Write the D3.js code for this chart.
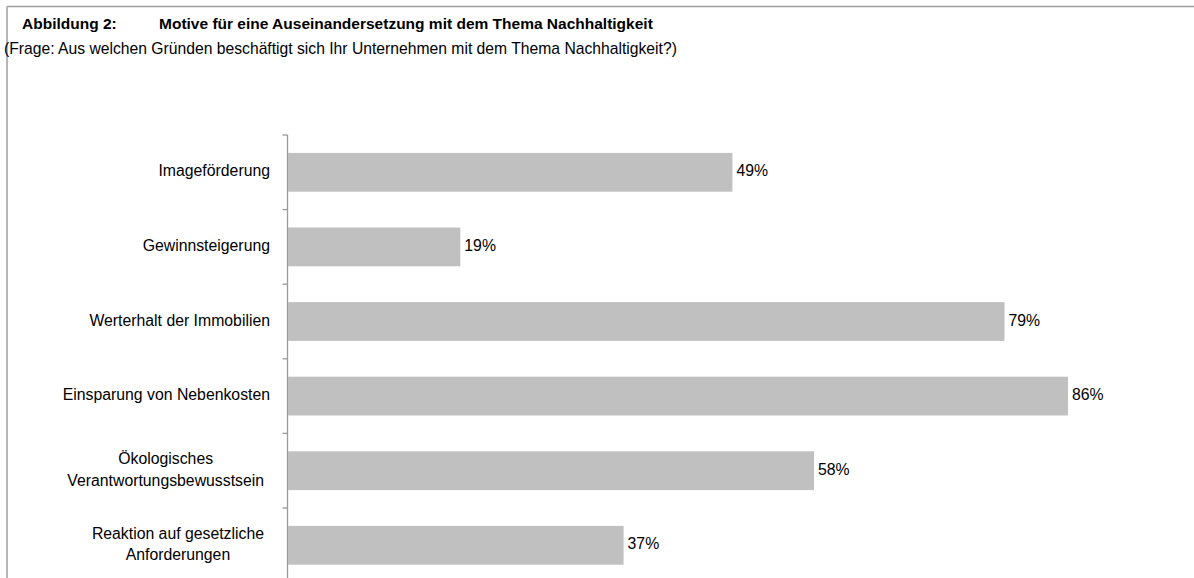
<!DOCTYPE html>
<html lang="de">

<head>
    <meta charset="UTF-8">
    <title>Abbildung 2: Motive Nachhaltigkeit</title>
    <style>
        body { margin: 0; background: #fff; }
        text { font-family: "Liberation Sans", Arial, sans-serif; fill: #000; }
    </style>
</head>

<body>

    <script src="https://d3js.org/d3.v7.min.js"></script>

    <script>

        const categories = [
            'Imageförderung',
            'Gewinnsteigerung',
            'Werterhalt der Immobilien',
            'Einsparung von Nebenkosten',
            'Ökologisches\nVerantwortungsbewusstsein',
            'Reaktion auf gesetzliche\nAnforderungen'
        ];
        const values = [0.49, 0.19, 0.79, 0.86, 0.58, 0.37];

        const titleNr = 'Abbildung 2:';
        const titleText = 'Motive für eine Auseinandersetzung mit dem Thema Nachhaltigkeit';
        const subtitle = '(Frage: Aus welchen Gründen beschäftigt sich Ihr Unternehmen mit dem Thema Nachhaltigkeit?)';

        const width = 1194,
            height = 578;

        const svg = d3.select('body').append('svg')
            .attr('width', width)
            .attr('height', height);

        // rahmen (nur oben und links sichtbar)
        svg.append('line')
            .attr('x1', 7).attr('x2', width)
            .attr('y1', 6.5).attr('y2', 6.5)
            .attr('stroke', '#9e9e9e').attr('stroke-width', 1.5);
        svg.append('line')
            .attr('x1', 7).attr('x2', 7)
            .attr('y1', 6.5).attr('y2', height)
            .attr('stroke', '#9e9e9e').attr('stroke-width', 1.5);

        svg.append('text')
            .attr('x', 22).attr('y', 29)
            .style('font-size', '15.5px').style('font-weight', 'bold')
            .text(titleNr);
        svg.append('text')
            .attr('x', 159).attr('y', 29)
            .style('font-size', '15.5px').style('font-weight', 'bold')
            .text(titleText);
        svg.append('text')
            .attr('x', 4).attr('y', 54)
            .style('font-size', '15.7px')
            .text(subtitle);

        const x = d3.scaleLinear()
            .domain([0, 1])
            .range([288, 1195]);

        const y = d3.scaleBand()
            .domain(categories)
            .range([135, 582.6])
            .paddingInner(0.48)
            .paddingOuter(0.24);

        const step = y.step();
        const gap = (step - y.bandwidth()) / 2;

        // achse mit tickmarks zwischen den kategorien
        const axisX = 287.5;
        svg.append('line')
            .attr('x1', axisX).attr('x2', axisX)
            .attr('y1', y.range()[0]).attr('y2', height)
            .attr('stroke', '#9a9a9a').attr('stroke-width', 1.3);

        const tickYs = categories.map(d => y(d) - gap);
        svg.selectAll('.tick')
            .data(tickYs)
            .enter()
            .append('line')
            .attr('class', 'tick')
            .attr('x1', axisX - 5).attr('x2', axisX)
            .attr('y1', d => d).attr('y2', d => d)
            .attr('stroke', '#9a9a9a').attr('stroke-width', 1.3);

        // balken
        svg.selectAll('rect.bar')
            .data(values)
            .enter()
            .append('rect')
            .attr('class', 'bar')
            .attr('x', x(0))
            .attr('y', (d, i) => y(categories[i]))
            .attr('width', d => x(d) - x(0))
            .attr('height', y.bandwidth())
            .attr('fill', '#c0c0c0');

        // werte
        svg.selectAll('text.val')
            .data(values)
            .enter()
            .append('text')
            .attr('class', 'val')
            .attr('x', d => x(d) + 4)
            .attr('y', (d, i) => y(categories[i]) + y.bandwidth() / 2)
            .attr('dy', '0.26em')
            .style('font-size', '15.8px')
            .text(d => d3.format('.0%')(d));

        // kategorien
        const labelRight = 270;
        const lineH = 21.5;
        categories.forEach(cat => {
            const lines = cat.split('\n');
            const cy = y(cat) + y.bandwidth() / 2;
            const g = svg.append('g');
            const txts = lines.map((l, j) => g.append('text')
                .attr('y', cy + (j - (lines.length - 1) / 2) * lineH)
                .attr('dy', '0.26em')
                .style('font-size', '15.8px')
                .text(l));
            if (lines.length == 1) {
                txts[0].attr('x', labelRight).attr('text-anchor', 'end');
            } else {
                const maxW = d3.max(txts, t => t.node().getComputedTextLength());
                txts.forEach(t => t.attr('x', labelRight - 6 - maxW / 2).attr('text-anchor', 'middle'));
            }
        });

    </script>
</body>

</html>
